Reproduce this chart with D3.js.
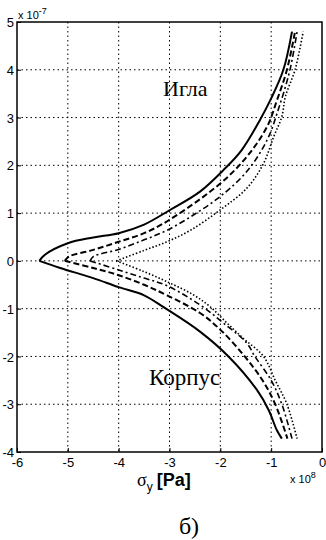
<!DOCTYPE html>
<html>
<head>
<meta charset="utf-8">
<script src="https://cdn.jsdelivr.net/npm/d3@7"></script>
<style>
    html, body { margin: 0; padding: 0; background: #fff; }
    #chart { width: 326px; height: 540px; }
    .tick text { font-family: "Liberation Sans", Arial, sans-serif; font-size: 13px; fill: #000; }
</style>
</head>
<body>
<div id="chart"></div>
<script>
// tick values (sigma in 1e8 Pa, y in 1e-7 m)
const xTicks = [-6, -5, -4, -3, -2, -1, 0];
const yTicks = [-4, -3, -2, -1, 0, 1, 2, 3, 4, 5];

// upper branch ("Игла"), [sigma, y]
const iglaSolid = [[-5.56, 0], [-5.45, 0.13], [-5.0, 0.37], [-4.5, 0.49], [-4.0, 0.58], [-3.5, 0.76],
    [-3.0, 1.06], [-2.4, 1.45], [-1.94, 1.9], [-1.58, 2.32], [-1.22, 2.95], [-1.0, 3.4], [-0.76, 4.0], [-0.59, 4.8]];
const iglaDashed = [[-5.06, 0], [-4.98, 0.09], [-4.5, 0.23], [-4.0, 0.4], [-3.5, 0.58], [-3.03, 0.84],
    [-2.0, 1.62], [-1.48, 2.18], [-1.08, 2.81], [-0.89, 3.35], [-0.69, 4.0], [-0.53, 4.8]];
const iglaDashDot = [[-4.56, 0], [-4.5, 0.09], [-4.0, 0.24], [-3.5, 0.44], [-3.05, 0.64], [-2.53, 0.96],
    [-2.0, 1.35], [-1.48, 1.87], [-1.08, 2.53], [-0.85, 3.2], [-0.63, 4.0], [-0.49, 4.8]];
const iglaDotted = [[-4.05, 0], [-3.5, 0.22], [-3.05, 0.4], [-2.59, 0.64], [-2.0, 1.07], [-1.48, 1.52],
    [-1.15, 2.04], [-0.95, 2.6], [-0.79, 3.02], [-0.72, 3.44], [-0.53, 4.0], [-0.37, 4.8]];

// lower branch ("Корпус")
const korpusSolid = [[-5.56, 0], [-5.15, -0.15], [-4.5, -0.36], [-4.0, -0.55], [-3.5, -0.72], [-3.1, -0.98],
    [-2.4, -1.48], [-1.84, -2.0], [-1.28, -2.7], [-1.05, -3.12], [-0.89, -3.54], [-0.79, -3.72]];
const korpusDashed = [[-5.06, 0], [-4.5, -0.15], [-4.0, -0.3], [-3.5, -0.5], [-3.05, -0.72], [-2.4, -1.09],
    [-2.0, -1.44], [-1.52, -2.0], [-1.17, -2.5], [-0.92, -3.0], [-0.68, -3.72]];
const korpusDashDot = [[-4.56, 0], [-4.0, -0.19], [-3.5, -0.36], [-3.05, -0.52], [-2.4, -0.92], [-1.94, -1.3],
    [-1.48, -1.72], [-1.32, -2.0], [-1.0, -2.5], [-0.79, -3.0], [-0.59, -3.72]];
const korpusDotted = [[-4.05, 0], [-3.51, -0.22], [-3.0, -0.46], [-2.53, -0.71], [-2.2, -0.96], [-1.87, -1.3],
    [-1.55, -1.62], [-1.15, -2.0], [-0.92, -2.5], [-0.69, -3.0], [-0.49, -3.72]];

const width = 326, height = 540;
const margin = { top: 22, right: 4, bottom: 88, left: 17 };

const svg = d3.select('#chart').append('svg')
    .attr('width', width)
    .attr('height', height);

const x = d3.scaleLinear().domain([-6, 0]).range([margin.left, width - margin.right]);
const y = d3.scaleLinear().domain([-4, 5]).range([height - margin.bottom, margin.top]);

// dotted grid
const grid = svg.append('g').attr('stroke', '#000').attr('stroke-width', 1)
    .attr('stroke-dasharray', '1.5,3');
grid.selectAll('.gx').data(xTicks.slice(1, -1)).join('line')
    .attr('x1', d => x(d)).attr('x2', d => x(d))
    .attr('y1', y(5)).attr('y2', y(-4));
grid.selectAll('.gy').data(yTicks.slice(1, -1)).join('line')
    .attr('x1', x(-6)).attr('x2', x(0))
    .attr('y1', d => y(d)).attr('y2', d => y(d));

// axes, ticks pointing inward like matlab
const xAxis = svg.append('g')
    .attr('transform', `translate(0,${y(-4)})`)
    .call(d3.axisBottom(x).tickValues(xTicks).tickFormat(d => String(d)).tickSizeInner(-4).tickSizeOuter(0).tickPadding(6));
const yAxis = svg.append('g')
    .attr('transform', `translate(${x(-6)},0)`)
    .call(d3.axisLeft(y).tickValues(yTicks).tickFormat(d => String(d)).tickSizeInner(-4).tickSizeOuter(0).tickPadding(3));
[xAxis, yAxis].forEach(a => {
    a.select('.domain').remove();
    a.selectAll('.tick line').attr('stroke', '#000');
});
yAxis.selectAll('.tick text').attr('dy', '0.35em');

// frame
svg.append('rect')
    .attr('x', x(-6)).attr('y', y(5))
    .attr('width', x(0) - x(-6)).attr('height', y(-4) - y(5))
    .attr('fill', 'none').attr('stroke', '#000').attr('stroke-width', 1.5);

// curves
const line = d3.line()
    .x(d => x(d[0]))
    .y(d => y(d[1]))
    .curve(d3.curveCatmullRom.alpha(0.5));

const styles = [
    { data: [iglaSolid, korpusSolid], dash: null, w: 2 },
    { data: [iglaDashed, korpusDashed], dash: '6,3', w: 2 },
    { data: [iglaDashDot, korpusDashDot], dash: '6,3,2,3', w: 1.6 },
    { data: [iglaDotted, korpusDotted], dash: '1.5,2', w: 1.6 }
];
styles.forEach(s => {
    s.data.forEach(pts => {
        svg.append('path')
            .attr('d', line(pts))
            .attr('fill', 'none')
            .attr('stroke', '#000')
            .attr('stroke-width', s.w)
            .attr('stroke-dasharray', s.dash);
    });
});

// labels
const serif = '"Liberation Serif", "DejaVu Serif", serif';
const sans = '"Liberation Sans", Arial, sans-serif';

svg.append('text').attr('x', 163).attr('y', 96)
    .style('font-family', serif).style('font-size', '22px').text('Игла');
svg.append('text').attr('x', 149).attr('y', 385)
    .style('font-family', serif).style('font-size', '23px').text('Корпус');

// exponent labels
const expY = svg.append('text').attr('x', 18).attr('y', 19)
    .style('font-family', sans).style('font-size', '11px');
expY.append('tspan').text('x 10');
expY.append('tspan').attr('dy', -5).style('font-size', '9px').text('-7');

const expX = svg.append('text').attr('x', 290).attr('y', 483)
    .style('font-family', sans).style('font-size', '11px');
expX.append('tspan').text('x 10');
expX.append('tspan').attr('dy', -5).style('font-size', '9px').text('8');

// axis title
const xt = svg.append('text').attr('x', 137).attr('y', 486)
    .style('font-family', sans);
xt.append('tspan').style('font-family', serif).style('font-size', '18px').text('σ');
xt.append('tspan').attr('dy', 5).style('font-size', '12px').text('y');
xt.append('tspan').attr('dy', -5).attr('dx', 4).style('font-size', '18px').style('font-weight', 'bold').text('[Pa]');

svg.append('text').attr('x', 189).attr('y', 534).attr('text-anchor', 'middle')
    .style('font-family', serif).style('font-size', '24px').text('б)');
</script>
</body>
</html>
